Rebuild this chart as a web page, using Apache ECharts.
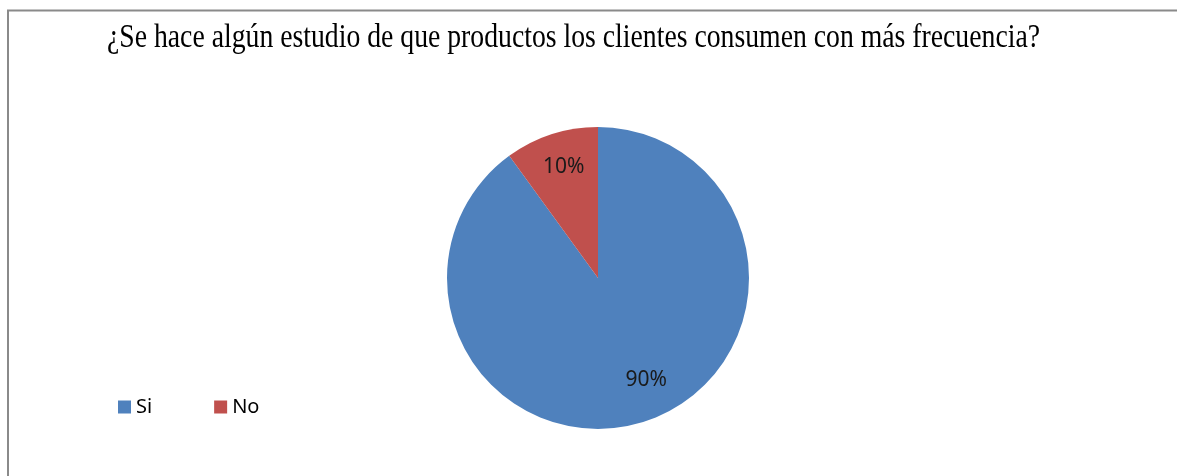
<!DOCTYPE html>
<html>
<head>
<meta charset="utf-8">
<script src="https://cdn.jsdelivr.net/npm/echarts@6/dist/echarts.min.js"></script>
<style>
  html, body { margin: 0; padding: 0; background: #ffffff; }
  #chart { width: 1177px; height: 476px; }
</style>
</head>
<body>
<div id="chart"></div>
<script>
// Survey answers and their shares (percent)
const categories = ['Si', 'No'];
const shares = [90, 10];
const sliceColors = ['#4F81BD', '#C0504D'];
const titleText = '¿Se hace algún estudio de que productos los clientes consumen con más frecuencia?';

// Slice label nudges so each percentage sits where it reads best
const labelOffsets = [[24, 27], [-10, -36]];

const chart = echarts.init(document.getElementById('chart'), null, { renderer: 'canvas' });

// Condense the tall serif heading to the width of the frame
const titleFont = '34px "Liberation Serif"';
const ctx = document.createElement('canvas').getContext('2d');
ctx.font = titleFont;
const titleWidth = ctx.measureText(titleText).width;
const titleScaleX = 933 / titleWidth;

chart.setOption({
  backgroundColor: '#ffffff',
  animation: false,
  color: sliceColors,
  graphic: [
    {
      type: 'rect',
      shape: { x: 8, y: 10.5, width: 1300, height: 600 },
      style: { fill: 'none', stroke: '#8a8a8a', lineWidth: 2 },
      silent: true
    },
    {
      type: 'text',
      x: 107,
      y: 38,
      scaleX: titleScaleX,
      style: {
        text: titleText,
        font: titleFont,
        fill: '#000000',
        textAlign: 'left',
        textVerticalAlign: 'middle'
      }
    }
  ],
  legend: {
    data: categories,
    left: 118,
    top: 397,
    padding: 0,
    icon: 'rect',
    itemWidth: 13,
    itemHeight: 13,
    itemGap: 62,
    textStyle: { fontFamily: 'Noto Sans', fontSize: 20, color: '#000000', padding: [0, 0, 0, 0] }
  },
  series: [{
    type: 'pie',
    center: [598, 278],
    radius: 151,
    startAngle: 90,
    clockwise: true,
    avoidLabelOverlap: false,
    label: {
      show: true,
      position: 'inside',
      formatter: '{c}%',
      fontFamily: 'Noto Sans',
      fontSize: 21,
      color: '#1a1a1a'
    },
    labelLine: { show: false },
    emphasis: { disabled: true },
    itemStyle: { borderWidth: 0 },
    data: categories.map((name, i) => ({
      name,
      value: shares[i],
      label: { offset: labelOffsets[i] }
    }))
  }]
});
</script>
</body>
</html>
